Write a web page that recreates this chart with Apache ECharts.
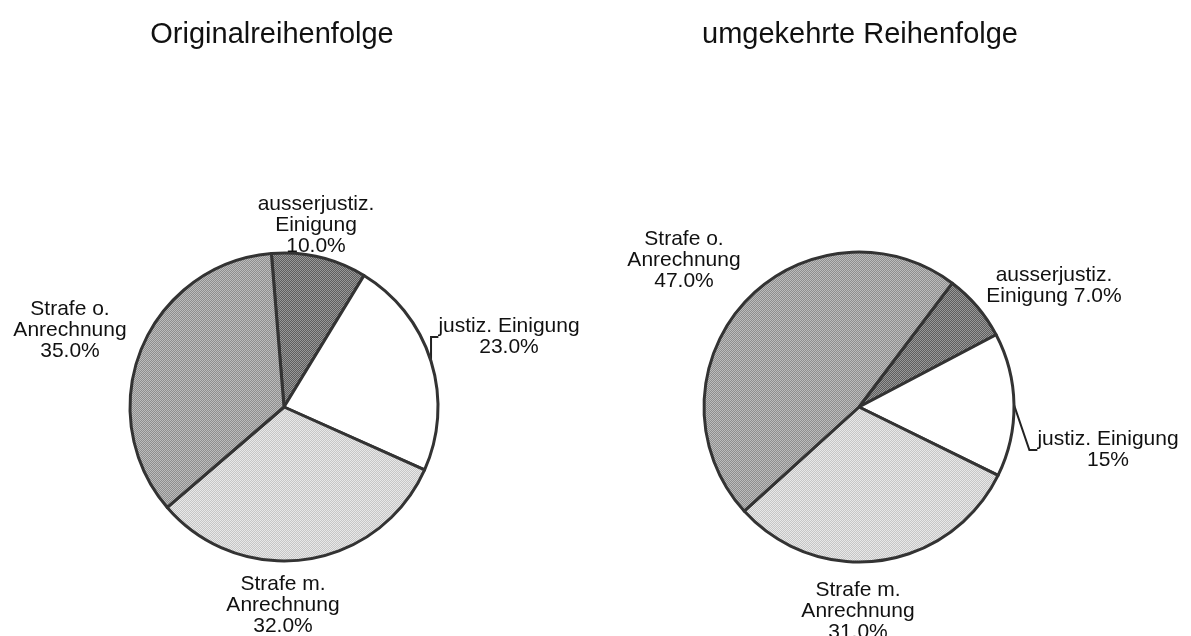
<!DOCTYPE html>
<html>
<head>
<meta charset="utf-8">
<script src="https://cdn.jsdelivr.net/npm/echarts@6/dist/echarts.min.js"></script>
<style>
  html, body { margin: 0; padding: 0; background: #ffffff; }
  #chart { width: 1191px; height: 636px; }
</style>
</head>
<body>
<div id="chart"></div>
<script>
// ---- data ----
const titles = ['Originalreihenfolge', 'umgekehrte Reihenfolge'];
const categories = ['ausserjustiz. Einigung', 'justiz. Einigung', 'Strafe m. Anrechnung', 'Strafe o. Anrechnung'];
const valuesLeft = [10, 23, 32, 35];
const valuesRight = [7, 15, 31, 47];
const labelNamesLeft = ['ausserjustiz.\nEinigung\n', 'justiz. Einigung\n', 'Strafe m.\nAnrechnung\n', 'Strafe o.\nAnrechnung\n'];
const labelNamesRight = ['ausserjustiz.\nEinigung ', 'justiz. Einigung\n', 'Strafe m.\nAnrechnung\n', 'Strafe o.\nAnrechnung\n'];
const pctLabelsLeft = ['10.0%', '23.0%', '32.0%', '35.0%'];
const pctLabelsRight = ['7.0%', '15%', '31.0%', '47.0%'];

// ---- styles / layout ----
function checker(a, b) {
  const c = document.createElement('canvas');
  c.width = 2; c.height = 2;
  const g = c.getContext('2d');
  g.fillStyle = a; g.fillRect(0, 0, 2, 2);
  g.fillStyle = b; g.fillRect(0, 0, 1, 1); g.fillRect(1, 1, 1, 1);
  return { image: c, repeat: 'repeat' };
}
const sliceColors = [
  checker('#5e5e5e', '#989898'),
  '#ffffff',
  checker('#c6c6c6', '#e8e8e8'),
  checker('#8e8e8e', '#bcbcbc')
];
const labelPosLeft = [[316, 225], [509, 337], [283, 605], [70, 330]];
const labelPosRight = [[1054, 286], [1108, 450], [858, 611], [684, 260]];
const FONT = '"Liberation Sans", Arial, Helvetica, sans-serif';

function makeSeries(values, names, pcts, center, radius, startAngle, labelPos) {
  return {
    type: 'pie',
    center: center,
    radius: radius,
    startAngle: startAngle,
    clockwise: true,
    avoidLabelOverlap: false,
    animation: false,
    silent: true,
    itemStyle: { borderColor: '#333333', borderWidth: 3 },
    label: {
      show: true,
      position: 'outside',
      fontFamily: FONT,
      fontSize: 21,
      lineHeight: 21,
      color: '#111111',
      align: 'center'
    },
    labelLine: { show: false },
    labelLayout: function (p) {
      const pos = labelPos[p.dataIndex];
      return { x: pos[0], y: pos[1], align: 'center', verticalAlign: 'middle' };
    },
    data: values.map(function (v, i) {
      const d = {
        name: categories[i],
        value: v,
        itemStyle: { color: sliceColors[i] },
        label: { formatter: names[i] + pcts[i] }
      };
      if (i === 1) {
        d.labelLine = { show: true, length: 6, length2: 8, lineStyle: { color: '#222', width: 2 } };
      }
      return d;
    })
  };
}

const chart = echarts.init(document.getElementById('chart'), null, { renderer: 'canvas' });
chart.setOption({
  backgroundColor: '#ffffff',
  animation: false,
  title: [
    { text: titles[0], left: 272, top: 20, padding: 0, textAlign: 'center',
      textStyle: { fontFamily: FONT, fontSize: 29, fontWeight: 'normal', color: '#111' } },
    { text: titles[1], left: 860, top: 20, padding: 0, textAlign: 'center',
      textStyle: { fontFamily: FONT, fontSize: 29, fontWeight: 'normal', color: '#111' } }
  ],
  series: [
    makeSeries(valuesLeft, labelNamesLeft, pctLabelsLeft, [284, 407], 154, 94.7, labelPosLeft),
    makeSeries(valuesRight, labelNamesRight, pctLabelsRight, [859, 407], 155, 53, labelPosRight)
  ]
});
</script>
</body>
</html>
